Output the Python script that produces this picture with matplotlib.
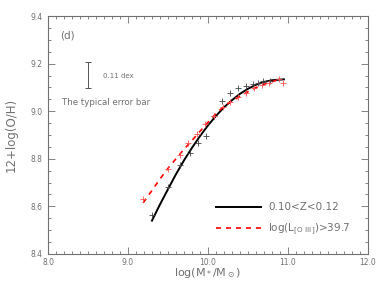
import numpy as np
import matplotlib
matplotlib.use('Agg')
import matplotlib.pyplot as plt
from matplotlib.ticker import MultipleLocator

# Datos
mass_black = [9.30, 9.50, 9.65, 9.77, 9.87, 9.975, 10.07, 10.17, 10.275,
              10.37, 10.475, 10.565, 10.63, 10.69, 10.77]
oh_black = [8.564, 8.680, 8.774, 8.823, 8.865, 8.896, 8.980, 9.043, 9.075,
            9.096, 9.107, 9.114, 9.120, 9.127, 9.127]

mass_red = [9.19, 9.50, 9.65, 9.755, 9.86, 9.96, 10.07, 10.19, 10.28,
            10.38, 10.475, 10.58, 10.67, 10.76, 10.89, 10.94]
oh_red = [8.630, 8.756, 8.815, 8.865, 8.905, 8.948, 8.981, 9.019, 9.037,
          9.058, 9.078, 9.096, 9.110, 9.120, 9.134, 9.117]

# Curvas de ajuste (leídas punto a punto)
fit_black_x = [9.30, 9.40, 9.50, 9.60, 9.70, 9.80, 9.90, 10.00, 10.10, 10.20,
               10.30, 10.40, 10.50, 10.60, 10.70, 10.80, 10.95]
fit_black_y = [8.540, 8.608, 8.672, 8.735, 8.793, 8.846, 8.895, 8.940, 8.980,
               9.016, 9.046, 9.073, 9.094, 9.111, 9.123, 9.130, 9.134]

fit_red_x = [9.19, 9.30, 9.40, 9.50, 9.60, 9.70, 9.80, 9.90, 10.00, 10.10,
             10.20, 10.30, 10.40, 10.50, 10.60, 10.70, 10.80, 10.90]
fit_red_y = [8.615, 8.667, 8.715, 8.760, 8.800, 8.840, 8.877, 8.915, 8.953,
             8.990, 9.020, 9.043, 9.062, 9.082, 9.099, 9.113, 9.124, 9.134]

gris = '#707070'
plt.rcParams['font.family'] = ['DejaVu Sans']

fig = plt.figure(figsize=(3.82, 2.86), dpi=100)
ax = fig.add_axes([0.1257, 0.112, 0.8373, 0.832])

ax.plot(fit_black_x, fit_black_y, color='black', lw=1.4, label='0.10<Z<0.12')
ax.plot(fit_red_x, fit_red_y, color='red', lw=1.2, ls=(0, (3, 3)),
        label=r'log(L$_{\rm [O\ III]}$)>39.7')
ax.plot(mass_black, oh_black, ls='none', marker='+', ms=5, mew=0.6, color='#444444')
ax.plot(mass_red, oh_red, ls='none', marker='+', ms=5, mew=0.6, color='#ff5050')

# Barra de error típica
ax.errorbar([8.5], [9.152], yerr=[0.055], color='#555555', capsize=2, lw=0.7, capthick=0.7)
ax.text(8.69, 9.148, '0.11 dex', fontsize=5, color=gris, va='center')
ax.text(8.17, 9.035, 'The typical error bar', fontsize=6.2, color=gris, va='center')
ax.text(8.15, 9.32, '(d)', fontsize=7.5, color=gris, va='center')

ax.set_xlim(8.0, 12.0)
ax.set_ylim(8.4, 9.4)
ax.xaxis.set_major_locator(MultipleLocator(1.0))
ax.xaxis.set_minor_locator(MultipleLocator(0.1))
ax.yaxis.set_major_locator(MultipleLocator(0.2))
ax.yaxis.set_minor_locator(MultipleLocator(0.05))
ax.xaxis.set_major_formatter(plt.FuncFormatter(lambda v, p: f'{v:.1f}'))
ax.yaxis.set_major_formatter(plt.FuncFormatter(lambda v, p: f'{v:.1f}'))
ax.tick_params(which='both', direction='in', top=True, right=True,
               colors=gris, labelsize=5.5, width=0.6, labelcolor=gris)
ax.tick_params(which='major', length=5, pad=4)
ax.tick_params(which='minor', length=2.5)
ax.tick_params(axis='x', which='major', pad=3)
for s in ax.spines.values():
    s.set_color(gris)
    s.set_linewidth(0.8)

ax.set_xlabel(r'log(M$_*$/M$_\odot$)', fontsize=8, color=gris)
ax.set_ylabel('12+log(O/H)', fontsize=8.5, color=gris)
ax.xaxis.set_label_coords(0.5, -0.05)
ax.yaxis.set_label_coords(-0.094, 0.5)

leg = ax.legend(loc='lower right', frameon=False, fontsize=7.5, handlelength=4.3,
                handletextpad=0.7, labelspacing=0.9, bbox_to_anchor=(0.975, 0.03))
for t in leg.get_texts():
    t.set_color(gris)

fig.savefig('out.png', dpi=100)
